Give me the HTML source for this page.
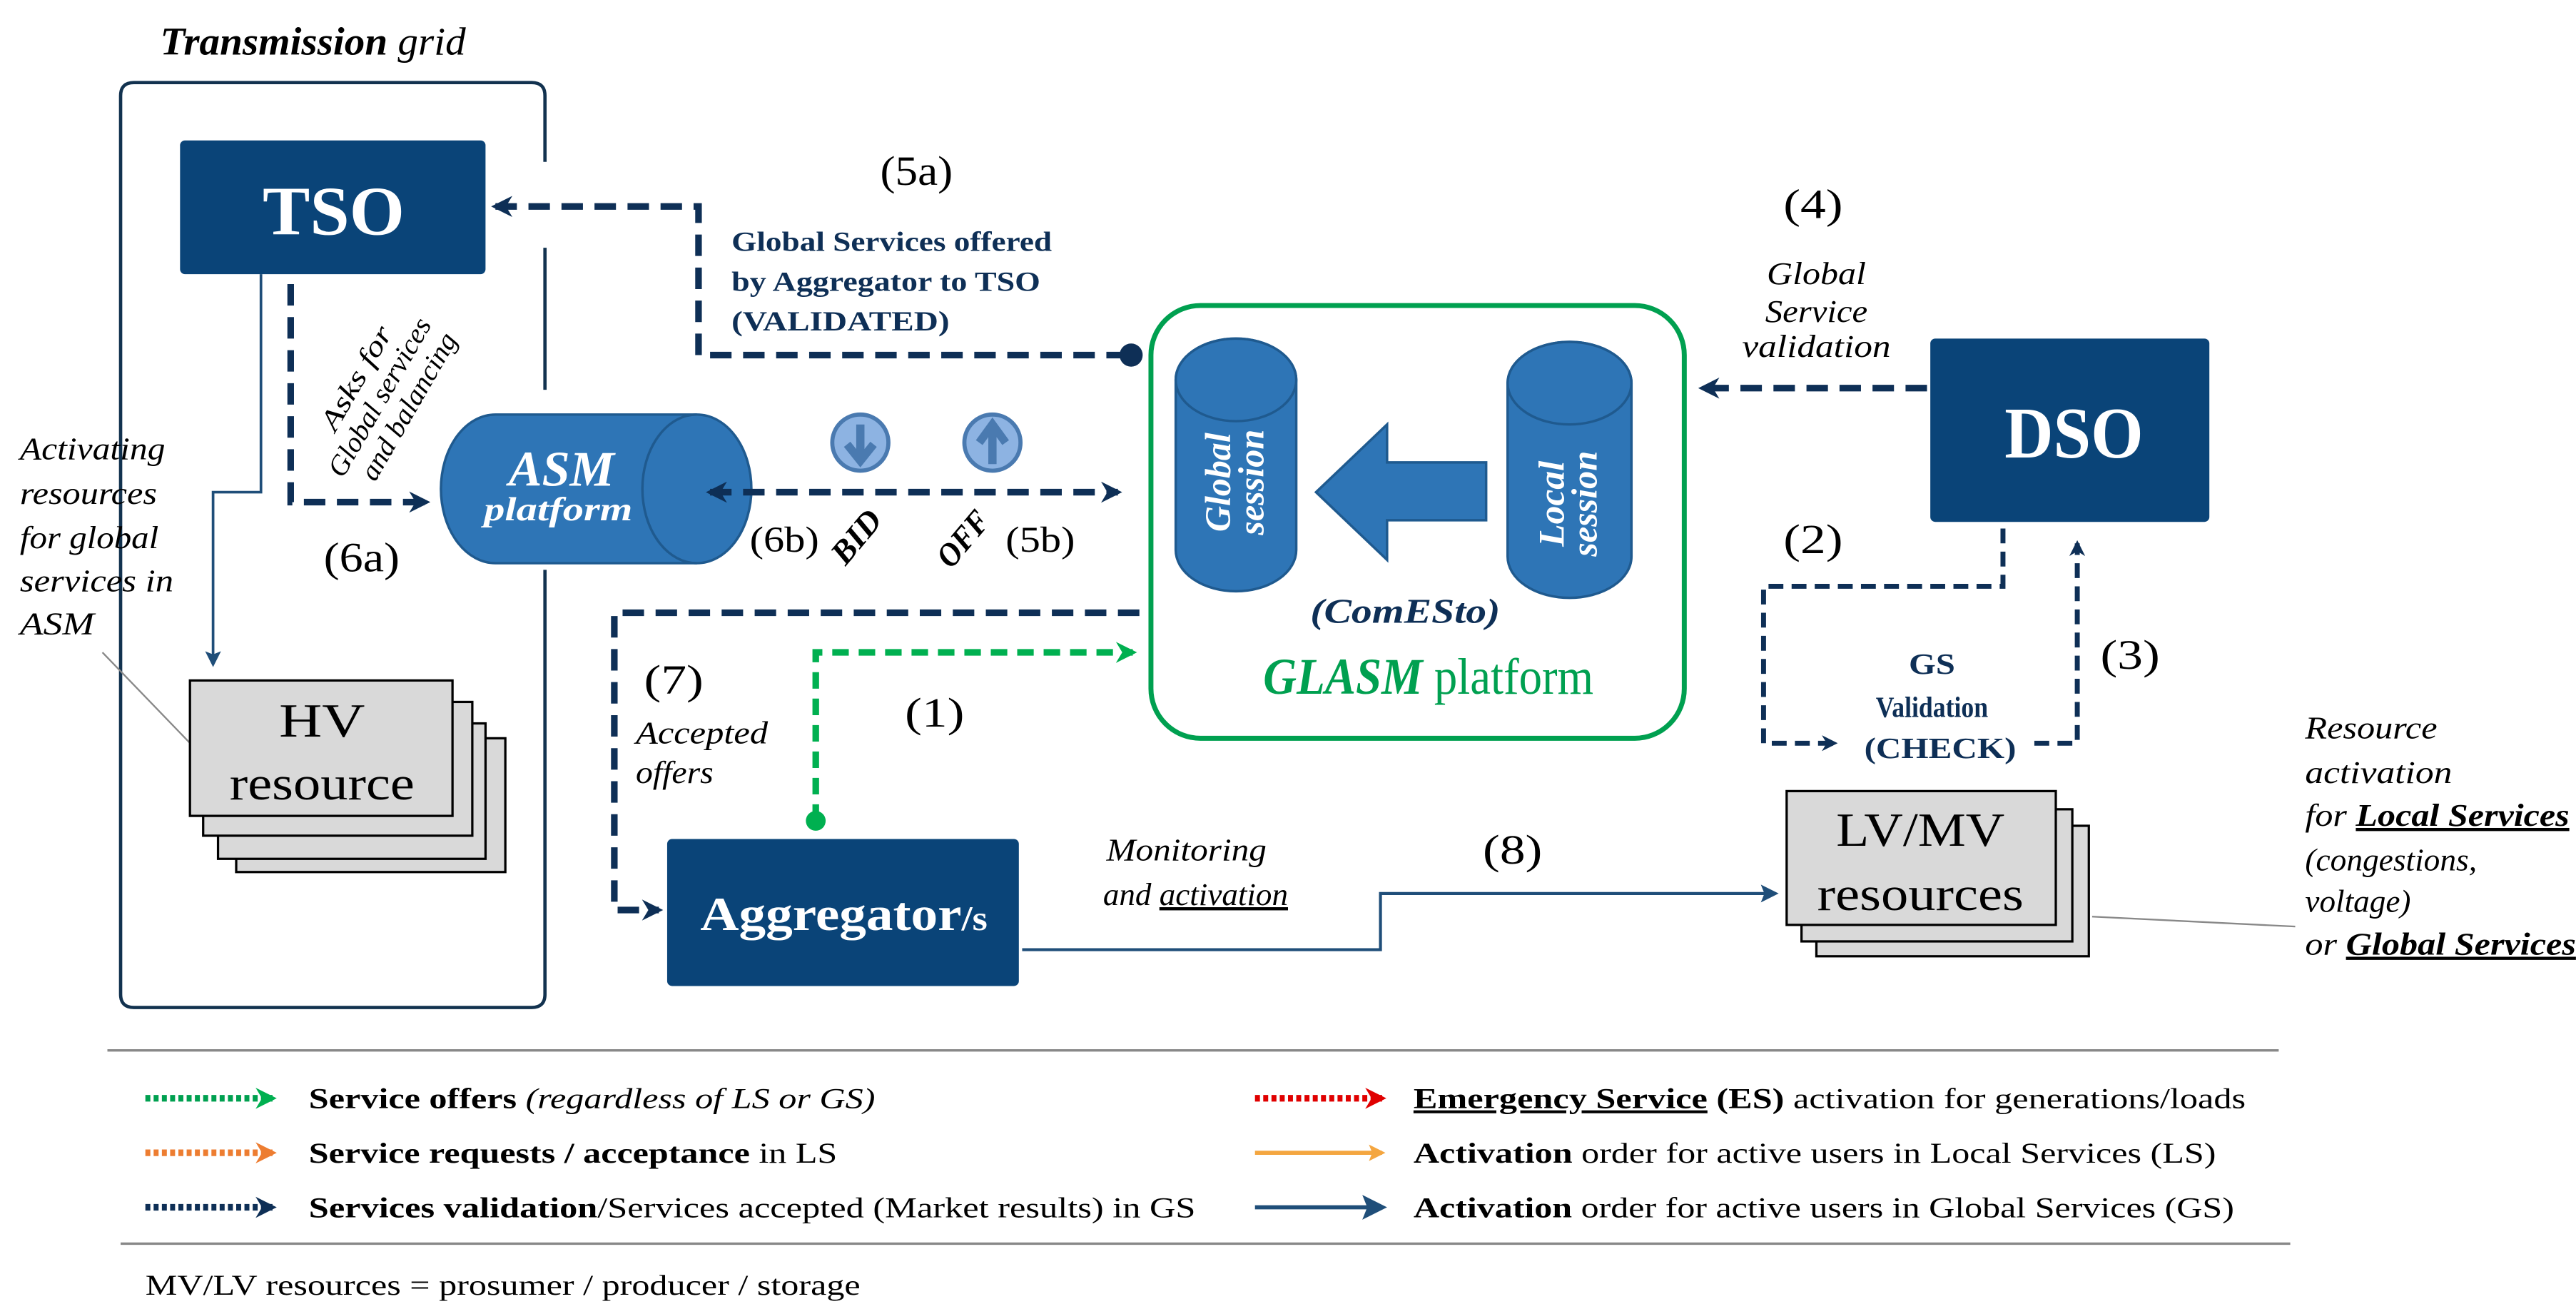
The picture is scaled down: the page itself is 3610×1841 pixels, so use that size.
<!DOCTYPE html>
<html><head><meta charset="utf-8">
<style>
html,body{margin:0;padding:0;background:#fff;}
svg{display:block;}
text{font-family:"Liberation Serif","Times New Roman",serif;}
</style></head>
<body>
<svg width="3610" height="1841" viewBox="0 0 1560 795.6" xmlns="http://www.w3.org/2000/svg">
<defs>
<marker id="an" viewBox="0 0 10 10" refX="8" refY="5" markerWidth="3.2" markerHeight="3.2" orient="auto-start-reverse"><path d="M0,0 L10,5 L0,10 L3,5 z" fill="#0e2f56"/></marker>
<marker id="ag" viewBox="0 0 10 10" refX="8" refY="5" markerWidth="3.2" markerHeight="3.2" orient="auto"><path d="M0,0 L10,5 L0,10 L3,5 z" fill="#00b050"/></marker>
<marker id="as" viewBox="0 0 10 10" refX="8" refY="5" markerWidth="6" markerHeight="6" orient="auto"><path d="M0,0 L10,5 L0,10 L2,5 z" fill="#1f4e79"/></marker>
<marker id="ao" viewBox="0 0 10 10" refX="8" refY="5" markerWidth="3.2" markerHeight="3.2" orient="auto"><path d="M0,0 L10,5 L0,10 L3,5 z" fill="#ed7d31"/></marker>
<marker id="ar" viewBox="0 0 10 10" refX="8" refY="5" markerWidth="3.2" markerHeight="3.2" orient="auto"><path d="M0,0 L10,5 L0,10 L3,5 z" fill="#e00000"/></marker>
<marker id="ay" viewBox="0 0 10 10" refX="8" refY="5" markerWidth="4" markerHeight="4" orient="auto"><path d="M0,0 L10,5 L0,10 L2,5 z" fill="#f4a640"/></marker>
</defs>

<text x="97" y="33" font-size="24" font-weight="bold" font-style="italic" textLength="185" lengthAdjust="spacingAndGlyphs">Transmission <tspan font-weight="normal">grid</tspan></text>
<path d="M330,98 L330,58 Q330,50 322,50 L81,50 Q73,50 73,58 L73,602 Q73,610 81,610 L322,610 Q330,610 330,602 L330,345" fill="none" stroke="#12324f" stroke-width="2"/>
<line x1="330" y1="150" x2="330" y2="236" stroke="#12324f" stroke-width="2"/>

<rect x="109" y="85" width="185" height="81" rx="3" fill="#0a4478"/>
<text x="202" y="142" font-size="42" font-weight="bold" fill="#fff" text-anchor="middle" textLength="86" lengthAdjust="spacingAndGlyphs">TSO</text>

<path d="M683,215 L423,215 L423,125 L300,125" fill="none" stroke="#0e2f56" stroke-width="4" stroke-dasharray="13,7" marker-end="url(#an)"/>
<circle cx="685" cy="215" r="7" fill="#0e2f56"/>
<text x="555" y="112" font-size="25" text-anchor="middle" textLength="44" lengthAdjust="spacingAndGlyphs">(5a)</text>
<g font-size="17" font-weight="bold" fill="#0e2f56">
<text x="443" y="152" textLength="194" lengthAdjust="spacingAndGlyphs">Global Services offered</text>
<text x="443" y="176" textLength="187" lengthAdjust="spacingAndGlyphs">by Aggregator to TSO</text>
<text x="443" y="200" textLength="132" lengthAdjust="spacingAndGlyphs">(VALIDATED)</text>
</g>

<path d="M176,172 L176,304 L258,304" fill="none" stroke="#0e2f56" stroke-width="4" stroke-dasharray="13,7" marker-end="url(#an)"/>
<g font-size="17" font-style="italic" transform="translate(203,262) rotate(-60)">
<text x="0" y="0" textLength="70" lengthAdjust="spacingAndGlyphs">Asks  for</text>
<text x="-22" y="18" textLength="108" lengthAdjust="spacingAndGlyphs">Global services</text>
<text x="-14" y="36" textLength="100" lengthAdjust="spacingAndGlyphs">and balancing</text>
</g>
<path d="M158,166 L158,298 L129,298 L129,402" fill="none" stroke="#1f4e79" stroke-width="1.6" marker-end="url(#as)"/>
<text x="219" y="346" font-size="25" text-anchor="middle" textLength="46" lengthAdjust="spacingAndGlyphs">(6a)</text>

<g font-size="19" font-style="italic">
<text x="12" y="278" textLength="88" lengthAdjust="spacingAndGlyphs">Activating</text>
<text x="12" y="305" textLength="83" lengthAdjust="spacingAndGlyphs">resources</text>
<text x="12" y="332" textLength="84" lengthAdjust="spacingAndGlyphs">for global</text>
<text x="12" y="358" textLength="93" lengthAdjust="spacingAndGlyphs">services in</text>
<text x="12" y="384" textLength="45" lengthAdjust="spacingAndGlyphs">ASM</text>
</g>
<line x1="62" y1="395" x2="117" y2="452" stroke="#888" stroke-width="1"/>

<g fill="#d9d9d9" stroke="#000" stroke-width="1.4">
<rect x="143" y="447" width="163" height="81"/>
<rect x="132" y="438" width="162" height="82"/>
<rect x="123" y="425" width="163" height="81"/>
<rect x="115" y="412" width="159" height="82"/>
</g>
<text x="195" y="446" font-size="29" text-anchor="middle" textLength="52" lengthAdjust="spacingAndGlyphs">HV</text>
<text x="195" y="484" font-size="29" text-anchor="middle" textLength="112" lengthAdjust="spacingAndGlyphs">resource</text>

<path d="M300,251 L422,251 A33,45 0 0 1 422,341 L300,341 A33,45 0 0 1 300,251 z" fill="#2e75b6" stroke="#1f5a8f" stroke-width="1.5"/>
<path d="M422,251 A33,45 0 0 0 422,341" fill="none" stroke="#1f5a8f" stroke-width="1.5"/>
<text x="340" y="294" font-size="30" font-weight="bold" font-style="italic" fill="#fff" text-anchor="middle" textLength="64" lengthAdjust="spacingAndGlyphs">ASM</text>
<text x="338" y="315" font-size="20" font-weight="bold" font-style="italic" fill="#fff" text-anchor="middle" textLength="90" lengthAdjust="spacingAndGlyphs">platform</text>

<path d="M430,298 L677,298" fill="none" stroke="#0e2f56" stroke-width="4" stroke-dasharray="13,7" marker-end="url(#an)" marker-start="url(#an)"/>
<g fill="#8db3e2" stroke="#4a7ab0" stroke-width="2.5">
<circle cx="521" cy="268" r="17"/><circle cx="601" cy="268" r="17"/>
</g>
<path d="M521,257 L521,276 M513,269 L521,279 L529,269" stroke="#4a7ab0" stroke-width="5" fill="none"/>
<path d="M601,281 L601,260 M593,268 L601,257 L609,268" stroke="#4a7ab0" stroke-width="5" fill="none"/>
<text x="475" y="334" font-size="22" text-anchor="middle" textLength="42" lengthAdjust="spacingAndGlyphs">(6b)</text>
<text font-size="20" font-weight="bold" font-style="italic" transform="translate(512,343) rotate(-50)" textLength="36" lengthAdjust="spacingAndGlyphs">BID</text>
<text font-size="20" font-weight="bold" font-style="italic" transform="translate(576,345) rotate(-50)" textLength="38" lengthAdjust="spacingAndGlyphs">OFF</text>
<text x="630" y="334" font-size="22" text-anchor="middle" textLength="42" lengthAdjust="spacingAndGlyphs">(5b)</text>

<rect x="697" y="185" width="323" height="262" rx="30" fill="none" stroke="#00a050" stroke-width="3"/>
<path d="M712,230 A36.5,25 0 0 1 785,230 L785,333 A36.5,25 0 0 1 712,333 z" fill="#2e75b6" stroke="#1f5a8f" stroke-width="1.5"/>
<ellipse cx="748.5" cy="230" rx="36.5" ry="25" fill="#2e75b6" stroke="#1f5a8f" stroke-width="1.5"/>
<g font-size="22" font-weight="bold" font-style="italic" fill="#fff" text-anchor="middle" transform="translate(748,292) rotate(-90)">
<text x="0" y="-3" textLength="60" lengthAdjust="spacingAndGlyphs">Global</text>
<text x="0" y="17" textLength="64" lengthAdjust="spacingAndGlyphs">session</text></g>
<path d="M913,232 A37.5,25 0 0 1 988,232 L988,337 A37.5,25 0 0 1 913,337 z" fill="#2e75b6" stroke="#1f5a8f" stroke-width="1.5"/>
<ellipse cx="950.5" cy="232" rx="37.5" ry="25" fill="#2e75b6" stroke="#1f5a8f" stroke-width="1.5"/>
<g font-size="22" font-weight="bold" font-style="italic" fill="#fff" text-anchor="middle" transform="translate(950,305) rotate(-90)">
<text x="0" y="-3" textLength="52" lengthAdjust="spacingAndGlyphs">Local</text>
<text x="0" y="17" textLength="64" lengthAdjust="spacingAndGlyphs">session</text></g>
<path d="M797,298 L840,257 L840,280 L900,280 L900,315 L840,315 L840,339 z" fill="#2e75b6" stroke="#1f5a8f" stroke-width="1.5"/>
<text x="851" y="377" font-size="21" font-weight="bold" font-style="italic" fill="#0e2f56" text-anchor="middle" textLength="115" lengthAdjust="spacingAndGlyphs">(ComESto)</text>
<text x="865" y="420" font-size="31" fill="#00a050" text-anchor="middle" textLength="200" lengthAdjust="spacingAndGlyphs"><tspan font-weight="bold" font-style="italic">GLASM</tspan> platform</text>

<rect x="1169" y="205" width="169" height="111" rx="3" fill="#0a4478"/>
<text x="1256" y="277" font-size="44" font-weight="bold" fill="#fff" text-anchor="middle" textLength="84" lengthAdjust="spacingAndGlyphs">DSO</text>
<text x="1098" y="132" font-size="25" text-anchor="middle" textLength="36" lengthAdjust="spacingAndGlyphs">(4)</text>
<g font-size="19" font-style="italic" text-anchor="middle">
<text x="1100" y="172" textLength="60" lengthAdjust="spacingAndGlyphs">Global</text>
<text x="1100" y="195" textLength="62" lengthAdjust="spacingAndGlyphs">Service</text>
<text x="1100" y="216" textLength="90" lengthAdjust="spacingAndGlyphs">validation</text></g>
<path d="M1167,235 L1031,235" fill="none" stroke="#0e2f56" stroke-width="4" stroke-dasharray="13,7" marker-end="url(#an)"/>
<text x="1098" y="335" font-size="25" text-anchor="middle" textLength="36" lengthAdjust="spacingAndGlyphs">(2)</text>
<path d="M1213,320 L1213,355 L1068,355 L1068,450 L1111,450" fill="none" stroke="#0e2f56" stroke-width="3" stroke-dasharray="9,5" marker-end="url(#an)"/>
<path d="M1232,450 L1258,450 L1258,329" fill="none" stroke="#0e2f56" stroke-width="3" stroke-dasharray="9,5" marker-end="url(#an)"/>
<g font-size="18" font-weight="bold" fill="#0e2f56" text-anchor="middle">
<text x="1170" y="408" textLength="28" lengthAdjust="spacingAndGlyphs">GS</text>
<text x="1170" y="434" textLength="68" lengthAdjust="spacingAndGlyphs">Validation</text>
<text x="1175" y="459" textLength="92" lengthAdjust="spacingAndGlyphs">(CHECK)</text></g>
<text x="1290" y="405" font-size="25" text-anchor="middle" textLength="36" lengthAdjust="spacingAndGlyphs">(3)</text>

<g font-size="19" font-style="italic">
<text x="1396" y="447" textLength="80" lengthAdjust="spacingAndGlyphs">Resource</text>
<text x="1396" y="474" textLength="89" lengthAdjust="spacingAndGlyphs">activation</text>
<text x="1396" y="500" textLength="160" lengthAdjust="spacingAndGlyphs">for <tspan font-weight="bold" text-decoration="underline">Local Services</tspan></text>
<text x="1396" y="527" textLength="104" lengthAdjust="spacingAndGlyphs">(congestions,</text>
<text x="1396" y="552" textLength="64" lengthAdjust="spacingAndGlyphs">voltage)</text>
<text x="1396" y="578" textLength="164" lengthAdjust="spacingAndGlyphs">or <tspan font-weight="bold" text-decoration="underline">Global Services</tspan></text>
</g>

<g fill="#d9d9d9" stroke="#000" stroke-width="1.4">
<rect x="1100" y="500" width="165" height="79"/>
<rect x="1091" y="490" width="164" height="80"/>
<rect x="1082" y="479" width="163" height="81"/>
</g>
<text x="1163" y="512" font-size="29" text-anchor="middle" textLength="102" lengthAdjust="spacingAndGlyphs">LV/MV</text>
<text x="1163" y="551" font-size="29" text-anchor="middle" textLength="125" lengthAdjust="spacingAndGlyphs">resources</text>
<line x1="1267" y1="555" x2="1390" y2="561" stroke="#888" stroke-width="1"/>

<rect x="404" y="508" width="213" height="89" rx="3" fill="#0a4478"/>
<text x="511" y="563" font-size="29" font-weight="bold" fill="#fff" text-anchor="middle" textLength="174" lengthAdjust="spacingAndGlyphs">Aggregator<tspan font-size="21">/s</tspan></text>
<path d="M690,371 L372,371 L372,551 L399,551" fill="none" stroke="#0e2f56" stroke-width="4" stroke-dasharray="13,7" marker-end="url(#an)"/>
<text x="408" y="420" font-size="25" text-anchor="middle" textLength="36" lengthAdjust="spacingAndGlyphs">(7)</text>
<g font-size="19" font-style="italic">
<text x="385" y="450" textLength="80" lengthAdjust="spacingAndGlyphs">Accepted</text>
<text x="385" y="474" textLength="47" lengthAdjust="spacingAndGlyphs">offers</text></g>
<path d="M494,497 L494,395 L686,395" fill="none" stroke="#00b050" stroke-width="4" stroke-dasharray="10,6" marker-end="url(#ag)"/>
<circle cx="494" cy="497" r="6" fill="#00b050"/>
<text x="566" y="440" font-size="25" text-anchor="middle" textLength="36" lengthAdjust="spacingAndGlyphs">(1)</text>
<path d="M619,575 L836,575 L836,541 L1075,541" fill="none" stroke="#1f4e79" stroke-width="1.8" marker-end="url(#as)"/>
<g font-size="19" font-style="italic">
<text x="670" y="521" textLength="97" lengthAdjust="spacingAndGlyphs">Monitoring</text>
<text x="668" y="548" textLength="112" lengthAdjust="spacingAndGlyphs">and <tspan text-decoration="underline">activation</tspan></text></g>
<text x="916" y="523" font-size="25" text-anchor="middle" textLength="36" lengthAdjust="spacingAndGlyphs">(8)</text>

<line x1="65" y1="636" x2="1380" y2="636" stroke="#888" stroke-width="1.5"/>
<line x1="73" y1="753" x2="1387" y2="753" stroke="#888" stroke-width="1.5"/>
<path d="M88,665 L165,665" stroke="#00a050" stroke-width="4" stroke-dasharray="3,2" marker-end="url(#ag)"/>
<path d="M88,698 L165,698" stroke="#ed7d31" stroke-width="4" stroke-dasharray="3,2" marker-end="url(#ao)"/>
<path d="M88,731 L165,731" stroke="#0e2f56" stroke-width="4" stroke-dasharray="3,2" marker-end="url(#an)"/>
<path d="M760,665 L837,665" stroke="#e00000" stroke-width="4" stroke-dasharray="3,2" marker-end="url(#ar)"/>
<path d="M760,698 L837,698" stroke="#f4a640" stroke-width="2.5" marker-end="url(#ay)"/>
<path d="M760,731 L837,731" stroke="#1f4e79" stroke-width="2.5" marker-end="url(#as)"/>
<g font-size="17.5">
<text x="187" y="671" textLength="343" lengthAdjust="spacingAndGlyphs"><tspan font-weight="bold">Service offers</tspan><tspan font-style="italic"> (regardless of LS or GS)</tspan></text>
<text x="187" y="704" textLength="320" lengthAdjust="spacingAndGlyphs"><tspan font-weight="bold">Service requests / acceptance</tspan> in LS</text>
<text x="187" y="737" textLength="537" lengthAdjust="spacingAndGlyphs"><tspan font-weight="bold">Services validation</tspan>/Services accepted (Market results) in GS</text>
<text x="856" y="671" textLength="504" lengthAdjust="spacingAndGlyphs"><tspan font-weight="bold" text-decoration="underline">Emergency Service</tspan><tspan font-weight="bold"> (ES)</tspan> activation for generations/loads</text>
<text x="856" y="704" textLength="486" lengthAdjust="spacingAndGlyphs"><tspan font-weight="bold">Activation</tspan> order for active users in Local Services (LS)</text>
<text x="856" y="737" textLength="497" lengthAdjust="spacingAndGlyphs"><tspan font-weight="bold">Activation</tspan> order for active users in Global Services (GS)</text>
<text x="88" y="784" textLength="433" lengthAdjust="spacingAndGlyphs">MV/LV resources = prosumer / producer / storage</text>
</g>
</svg>
</body></html>
